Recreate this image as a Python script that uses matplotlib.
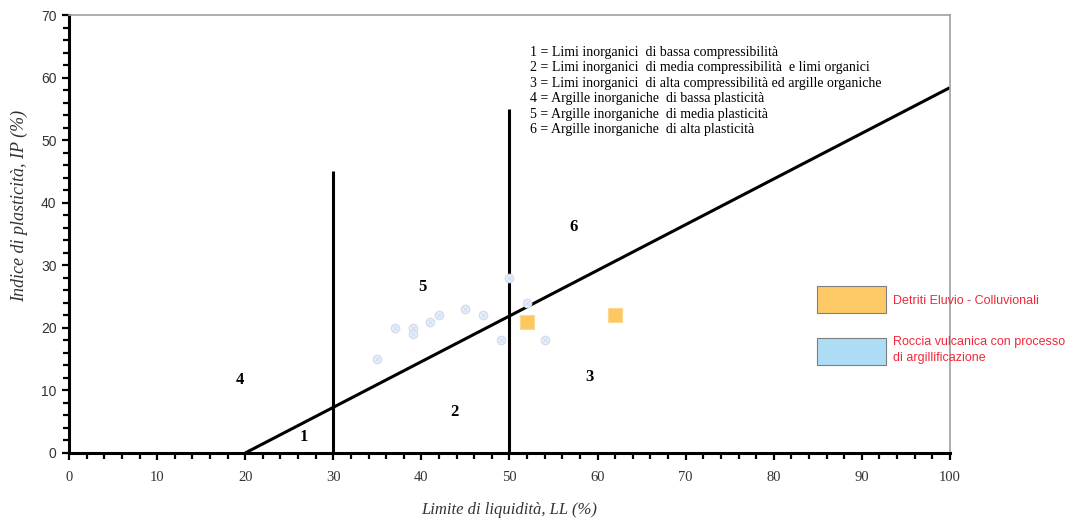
import numpy as np
import matplotlib.pyplot as plt
from matplotlib.patches import Rectangle
from matplotlib.ticker import MultipleLocator

# dati: limite di liquidita' (LL) e indice di plasticita' (IP)
roccia_ll = [35, 37, 39, 39, 41, 42, 45, 47, 49, 50, 52, 54]
roccia_ip = [15, 20, 20, 19, 21, 22, 23, 22, 18, 28, 24, 18]
detriti_ll = [52, 62]
detriti_ip = [21, 22]

aline_ll = [20, 100]
aline_ip = [0.73 * (v - 20) for v in aline_ll]
vert_ll = [30, 50]
vert_top = [45, 55]

zone_labels = ['1', '2', '3', '4', '5', '6']
zone_ll = [26.7, 43.8, 59.1, 19.4, 40.1, 57.3]
zone_ip = [2.6, 6.6, 12.1, 11.7, 26.5, 36.1]

legenda_zone = [
    "1 = Limi inorganici  di bassa compressibilità",
    "2 = Limi inorganici  di media compressibilità  e limi organici",
    "3 = Limi inorganici  di alta compressibilità ed argille organiche",
    "4 = Argille inorganiche  di bassa plasticità",
    "5 = Argille inorganiche  di media plasticità",
    "6 = Argille inorganiche  di alta plasticità",
]

fig = plt.figure(figsize=(10.67, 5.18), dpi=100)
ax = fig.add_axes([0.0647, 0.1255, 0.8256, 0.8455])

ax.set_xlim(0, 100)
ax.set_ylim(0, 70)

# carta di plasticita'
ax.plot(aline_ll, aline_ip, color='black', lw=2.2, solid_capstyle='butt')
for x, top in zip(vert_ll, vert_top):
    ax.plot([x, x], [0, top], color='black', lw=2.2, solid_capstyle='butt')

ax.scatter(roccia_ll, roccia_ip, s=38, marker='o', facecolor='#e6eff9',
           edgecolor='#cfdcee', linewidth=0.8, zorder=3)
ax.scatter(roccia_ll, roccia_ip, s=10, marker='x', color='#cfdcee',
           linewidth=0.6, zorder=4)
ax.scatter(detriti_ll, detriti_ip, s=95, marker='s', facecolor='#fdc860',
           edgecolor='#fdd890', linewidth=0.8, zorder=4)

for lab, x, y in zip(zone_labels, zone_ll, zone_ip):
    ax.text(x, y, lab, fontsize=12, fontweight='bold', family='Liberation Serif',
            ha='center', va='center')

ax.text(0.523, 0.93, "\n".join(legenda_zone), transform=ax.transAxes,
        fontsize=10, family='Liberation Serif', va='top', ha='left', linespacing=1.25)

# assi
for s in ['left', 'bottom']:
    ax.spines[s].set_linewidth(2.2)
    ax.spines[s].set_color('black')
for s in ['top', 'right']:
    ax.spines[s].set_linewidth(1.2)
    ax.spines[s].set_color('#a0a0a0')

ax.xaxis.set_major_locator(MultipleLocator(10))
ax.xaxis.set_minor_locator(MultipleLocator(2))
ax.yaxis.set_major_locator(MultipleLocator(10))
ax.yaxis.set_minor_locator(MultipleLocator(2))
ax.tick_params(which='both', direction='out', width=1.6, color='black')
ax.tick_params(which='major', length=5)
ax.tick_params(which='minor', length=4)
ax.tick_params(axis='y', labelsize=10, pad=4)
ax.tick_params(axis='x', labelsize=10.5, pad=8)
for t in ax.get_yticklabels():
    t.set_family('Liberation Sans')
    t.set_color('#333333')
for t in ax.get_xticklabels():
    t.set_family('Liberation Serif')
    t.set_color('#333333')

ax.set_xlabel("Limite di liquidità, LL (%)", fontsize=12, family='Liberation Serif',
              style='italic', color='#333333', labelpad=13)
ax.set_ylabel("Indice di plasticità, IP (%)", fontsize=13, family='Liberation Serif',
              style='italic', color='#333333')
ax.yaxis.set_label_coords(-0.047, 0.565)

# legenda materiali
fig.patches.append(Rectangle((817 / 1067, 1 - 313 / 518), 69 / 1067, 27 / 518,
                             transform=fig.transFigure, facecolor='#fdc966',
                             edgecolor='#7f7f7f', linewidth=0.8))
fig.patches.append(Rectangle((817 / 1067, 1 - 365 / 518), 69 / 1067, 27 / 518,
                             transform=fig.transFigure, facecolor='#addcf5',
                             edgecolor='#7f7f7f', linewidth=0.8))
fig.text(893 / 1067, 1 - 301 / 518, "Detriti Eluvio - Colluvionali", fontsize=9,
         family='Liberation Sans', color='#ee2a3a', va='center')
fig.text(893 / 1067, 1 - 350 / 518, "Roccia vulcanica con processo\ndi argillificazione",
         fontsize=9, family='Liberation Sans', color='#ee2a3a', va='center',
         linespacing=1.35)

plt.savefig('out.png', dpi=100)
